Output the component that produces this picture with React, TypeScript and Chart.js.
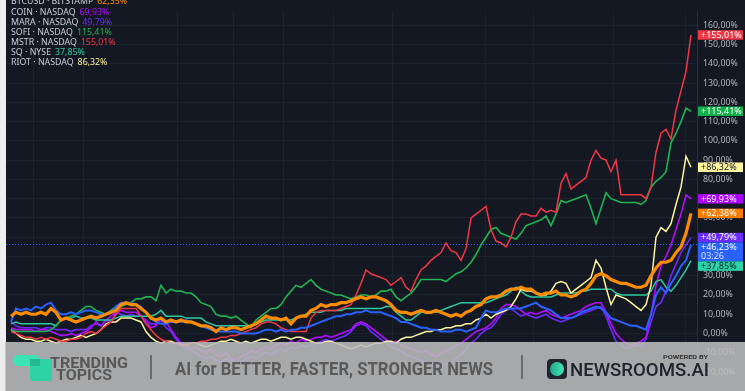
import React, { useEffect, useRef } from "react";
import { Chart, registerables } from "chart.js";
Chart.register(...registerables);

// time index of each sample (about 12h apart)
const timeIndex: number[] = Array.from({ length: 137 }, (_, k) => k + 1);
// time positions of the vertical grid lines
const gridTimes = [5.4, 15.4, 34.2, 45.4, 55.4, 65.4, 77.2, 95.8, 105.4, 121.4, 135.8];

const btc = [
  9, 11, 10, 11, 10, 10, 11, 10, 13, 11,
  7, 8, 7, 6, 7, 8, 9, 8, 9, 10,
  11, 12, 15, 16, 15, 15, 13, 11, 8, 7,
  8, 6, 7, 6, 7, 6, 6, 5, 4, 4,
  3, 1, 3, 2, 3, 3, 2, 3, 4, 5,
  7, 9, 8, 8, 7, 8, 5, 8, 9, 9,
  12, 13, 15, 14, 15, 15, 16, 16, 17, 18,
  19, 18, 19, 19, 18, 17, 15, 12, 11, 11,
  10, 11, 12, 11, 11, 12, 11, 10, 9, 10,
  9, 11, 12, 14, 15, 18, 19, 19, 20, 22,
  23, 23, 24, 23, 23, 21, 20, 21, 21, 22,
  20, 20, 19, 20, 22, 23, 26, 30, 31, 30,
  28, 27, 26, 26, 25, 24, 24, 25, 30, 34,
  37, 37, 38, 42, 45, 52, 62.38,
];
const sofi = [
  2, 1, 1, 1, 1, 1, 1, 1, 2, 4,
  7, 8, 9, 10, 12, 14, 14, 12, 11, 10,
  12, 14, 14, 15, 16, 18, 18, 19, 19, 17,
  25, 21, 23, 22, 22, 21, 21, 19, 16, 15,
  14, 10, 9, 9, 8, 9, 7, 5, 3, 7,
  9, 11, 13, 13, 15, 19, 22, 25, 24, 26,
  28, 25, 23, 22, 21, 20, 20, 19, 18, 19,
  20, 20, 19, 20, 22, 22, 23, 19, 17, 19,
  21, 24, 28, 28, 28, 28, 28, 27, 29, 31,
  32, 34, 37, 41, 46, 50, 54, 55, 52, 51,
  50, 49, 52, 56, 57, 58, 59, 61, 56, 62,
  69, 68, 69, 70, 71, 72, 65, 57, 65, 73,
  70, 69, 68, 68, 68, 68, 67, 69, 76, 79,
  81, 84, 99, 104, 110, 117, 115.41,
];
const mstr = [
  1, 0, -1, -2, -2, -3, -2, -3, -2, -3,
  -4, -4, -3, -3, -2, 0, 1, 0, 2, 4,
  6, 10, 13, 13, 13, 13, 9, 5, 2, -1,
  -3, -4, -5, -5, -6, -6, -5, -5, -4, -4,
  -3, -3, -2, -2, -1, -1, 0, 1, 2, 3,
  5, 6, 6, 5, 3, 2, 1, 1, 1, 1,
  8, 11, 12, 12, 12, 12, 13, 14, 15, 20,
  26, 33, 31, 30, 29, 28, 25, 27, 29, 24,
  22, 28, 33, 35, 38, 40, 42, 47, 43, 42,
  38, 44, 60, 62, 64, 66, 54, 48, 47, 45,
  50, 58, 62, 62, 61, 61, 65, 63, 64, 63,
  78, 83, 75, 77, 79, 81, 90, 95, 91, 90,
  84, 90, 72, 72, 72, 72, 72, 70, 76, 94,
  104, 106, 101, 116, 126, 136, 155.01,
];
const sq = [
  5, 6, 5, 5, 5, 5, 5, 5, 5, 4,
  7, 8, 8, 9, 8, 8, 8, 7, 7, 7,
  7, 8, 9, 9, 9, 9, 9, 9, 9, 10,
  12, 9, 9, 9, 9, 8, 8, 8, 8, 6,
  5, 4, 4, 4, 4, 4, 4, 4, 4, 5,
  6, 7, 7, 7, 7, 7, 7, 8, 9, 10,
  11, 11, 11, 12, 12, 12, 12, 13, 13, 13,
  13, 13, 13, 13, 13, 14, 14, 11, 9, 7,
  7, 9, 11, 11, 11, 11, 12, 13, 14, 15,
  16, 16, 16, 16, 16, 16, 17, 18, 19, 20,
  22, 24, 22, 20, 19, 19, 19, 19, 19, 20,
  21, 21, 21, 21, 22, 22, 23, 23, 23, 23,
  23, 21, 20, 20, 20, 20, 20, 20, 22, 27,
  28, 24, 22, 25, 29, 33, 37.85,
];
const riot = [
  2, 0, -2, -3, -3, -4, -4, -3, -4, -5,
  -4, -3, -3, -2, -1, -2, -1, 0, 2, 5,
  6, 6, 8, 8, 8, 7, 6, 1, -2, -4,
  -5, -4, -4, -5, -6, -6, -5, -5, -6, -7,
  -6, -5, -4, -4, -3, -4, -5, -4, -5, -4,
  -3, -3, -4, -3, -2, -2, -3, -2, -2, -3,
  -4, -5, -5, -4, -4, -5, -6, -7, -8, -7,
  -6, -7, -6, -5, -5, -4, -4, -5, -3, -2,
  -2, -1, 0, 1, 1, 2, 2, 3, 3, 4,
  4, 5, 5, 7, 8, 10, 8, 10, 11, 12,
  14, 18, 23, 22, 22, 21, 20, 20, 22, 26,
  27, 26, 21, 23, 25, 27, 29, 38, 34, 24,
  15, 20, 19, 18, 16, 14, 12, 15, 25, 50,
  55, 53, 57, 67, 76, 92, 86.32,
];
const mainSym = [
  6, 13, 12, 13, 12, 14, 13, 15, 16, 12,
  10, 10, 11, 10, 11, 12, 12, 11, 10, 10,
  11, 14, 16, 16, 16, 15, 14, 11, 8, 6,
  5, 5, 6, 6, 6, 7, 6, 5, 4, 3,
  2, 1, 1, 1, 1, 1, 0, 0, 0, 0,
  1, 2, 2, 1, 2, 1, 2, 2, 3, 3,
  4, 5, 6, 7, 8, 9, 9, 10, 10, 11,
  11, 12, 11, 11, 11, 10, 9, 8, 6, 6,
  5, 4, 3, 3, 2, 2, 1, 1, 1, 2,
  2, 1, 2, 3, 8, 12, 11, 11, 12, 13,
  13, 13, 13, 14, 15, 16, 14, 13, 12, 10,
  8, 8, 8, 9, 11, 12, 13, 14, 13, 11,
  8, 7, 6, 5, 4, 4, 3, 2, 10, 20,
  24, 21, 26, 30, 35, 38, 46.23,
];
const coin = [
  3, 2, 2, 2, 2, 1, 2, 2, 1, 0,
  -1, -1, 0, -1, 0, 1, 3, 6, 4, 7,
  9, 11, 12, 11, 11, 11, 9, 6, 3, 4,
  8, 6, 2, -2, -5, -6, -8, -7, -9, -10,
  -8, -11, -12, -10, -13, -14, -12, -11, -9, -10,
  -8, -7, -8, -6, -5, -6, -4, -5, -3, -4,
  -3, -2, -2, -1, -2, -1, 0, 1, 2, 5,
  6, 5, 3, 1, -1, -3, -5, -4, -6, -7,
  -8, -9, -10, -9, -11, -12, -10, -9, -8, -6,
  -5, -3, -1, 1, 2, 3, 5, 8, 13, 15,
  15, 14, 12, 10, 11, 10, 11, 12, 10, 9,
  8, 9, 10, 11, 12, 14, 15, 16, 16, 11,
  5, 0, -3, -5, -6, -5, -4, -2, 10, 25,
  35, 40, 46, 54, 62, 72, 69.93,
];
const mara = [
  6, 4, 3, 3, 3, 3, 2, 3, 3, 2,
  2, 2, 1, 2, 2, 2, 4, 5, 4, 7,
  6, 11, 10, 9, 10, 9, 9, 7, 5, 5,
  7, 3, 1, -3, -6, -8, -9, -10, -12, -13,
  -12, -14, -15, -13, -14, -16, -15, -13, -12, -13,
  -11, -10, -11, -9, -8, -9, -7, -8, -6, -7,
  -6, -5, -4, -3, -4, -3, -2, -1, 1, 4,
  5, 4, 1, -1, -3, -5, -7, -8, -9, -11,
  -12, -13, -14, -15, -16, -15, -17, -16, -15, -13,
  -11, -8, -5, -3, 0, 2, 3, 6, 10, 12,
  13, 11, 9, 10, 9, 8, 9, 10, 8, 7,
  6, 7, 8, 9, 10, 11, 12, 13, 14, 9,
  2, -4, -6, -8, -7, -6, -7, -3, 6, 14,
  16, 22, 30, 36, 42, 46, 49.79,
];

const legendNames = ["BTCUSD · BITSTAMP", "COIN · NASDAQ", "MARA · NASDAQ", "SOFI · NASDAQ", "MSTR · NASDAQ", "SQ · NYSE", "RIOT · NASDAQ"];
const legendValues = ["62,35%", "69,93%", "49,79%", "115,41%", "155,01%", "37,85%", "86,32%"];
const legendColors = ["#fb8c00", "#b10dff", "#6b2bff", "#1fb451", "#f23645", "#2cc9a0", "#fff59d"];

const yTicksMin = -24;
const yTicksMax = 167.3;
const countdown = "03:26";

const fmt = (v: number) => v.toFixed(2).replace(".", ",") + "%";

const endLabels = {
  id: "endLabels",
  beforeDatasetsDraw(chart: any) {
    const { ctx, chartArea, scales } = chart;
    const ds = chart.data.datasets.find((d: any) => d.isMain);
    if (!ds) return;
    const last = ds.data[ds.data.length - 1].y;
    const py = scales.y.getPixelForValue(last);
    ctx.save();
    ctx.strokeStyle = "#2962ff";
    ctx.lineWidth = 1;
    ctx.setLineDash([1, 2]);
    ctx.beginPath();
    ctx.moveTo(chartArea.left, Math.round(py) + 0.5);
    ctx.lineTo(chartArea.right, Math.round(py) + 0.5);
    ctx.stroke();
    ctx.restore();
  },
  afterDraw(chart: any) {
    const { ctx, chartArea, scales } = chart;
    const items = chart.data.datasets.map((ds: any) => {
      const last = ds.data[ds.data.length - 1].y;
      const cy = scales.y.getPixelForValue(last);
      const h = ds.isMain ? 19 : 9.5;
      return { ds, last, top: cy - 4.75, h };
    });
    items.sort((a: any, b: any) => a.top - b.top);
    let prevBottom = -Infinity;
    for (const it of items) {
      if (it.top < prevBottom) it.top = prevBottom;
      prevBottom = it.top + it.h;
    }
    const x0 = chartArea.right + 1;
    const w = 45;
    ctx.save();
    ctx.font = "9px 'Noto Sans', Roboto, sans-serif";
    ctx.textBaseline = "middle";
    ctx.textAlign = "left";
    for (const it of items) {
      ctx.fillStyle = it.ds.labelBg;
      ctx.fillRect(x0, it.top, w, it.h);
      ctx.fillStyle = it.ds.labelText;
      ctx.fillText("+" + fmt(it.last), x0 + 3, it.top + 5);
      if (it.ds.isMain) {
        ctx.fillStyle = "#dbe4ff";
        ctx.fillText(countdown, x0 + 3, it.top + 14.3);
      }
    }
    ctx.restore();
  },
};

function App() {
  const ref = useRef<HTMLCanvasElement | null>(null);
  useEffect(() => {
    if (!ref.current) return;
    const mk = (
      label: string,
      vals: number[],
      color: string,
      width: number,
      order: number,
      labelBg: string,
      labelText: string,
      isMain = false
    ) => ({
      label,
      data: vals.map((v, k) => ({ x: timeIndex[k], y: v })),
      borderColor: color,
      borderWidth: width,
      pointRadius: 0,
      tension: 0,
      fill: false,
      order,
      labelBg,
      labelText,
      isMain,
    });
    const chart = new Chart(ref.current, {
      type: "line",
      data: {
        datasets: [
          mk("BTCUSD", btc, "#fb8c00", 3.2, 0, "#f57c00", "#ffffff"),
          mk("Main", mainSym, "#2962ff", 2, 1, "#2962ff", "#ffffff", true),
          mk("MSTR", mstr, "#f23645", 1.5, 2, "#f23645", "#ffffff"),
          mk("SOFI", sofi, "#1fb451", 1.6, 3, "#12b04a", "#ffffff"),
          mk("RIOT", riot, "#fff59d", 1.5, 4, "#fff59d", "#131722"),
          mk("SQ", sq, "#2cc9a0", 1.5, 5, "#2bd4a8", "#131722"),
          mk("COIN", coin, "#b10dff", 1.6, 6, "#aa00ff", "#ffffff"),
          mk("MARA", mara, "#6b2bff", 1.6, 7, "#6a2cff", "#ffffff"),
        ] as any,
      },
      options: {
        animation: false,
        responsive: false,
        maintainAspectRatio: false,
        layout: { padding: 0, autoPadding: false } as any,
        plugins: { legend: { display: false }, tooltip: { enabled: false } },
        scales: {
          x: {
            type: "linear",
            min: 0,
            max: 138.2,
            ticks: { display: false },
            grid: { color: "#1e222d", drawTicks: false, lineWidth: 1 },
            border: { display: false },
            afterBuildTicks: (s: any) => {
              s.ticks = gridTimes.map((v) => ({ value: v }));
            },
          },
          y: {
            position: "right",
            min: yTicksMin,
            max: yTicksMax,
            ticks: {
              stepSize: 10,
              includeBounds: false,
              autoSkip: false,
              padding: 6,
              color: "#b2b5be",
              font: { size: 8.8, family: "'Noto Sans', Roboto, sans-serif" },
              callback: (v: any) => fmt(Number(v)),
            },
            grid: { color: "#1e222d", drawTicks: false },
            border: { display: true, color: "#2a2e39" },
            afterFit: (s: any) => {
              s.width = 48;
            },
          },
        },
      },
      plugins: [endLabels],
    } as any);
    return () => chart.destroy();
  }, []);

  const legendTop = [-4, 6.7, 17.3, 27.3, 37.3, 47.3, 57.3];

  return (
    <div style={{ position: "fixed", left: 0, top: 0, width: 745, height: 391, background: "#eeeeee", overflow: "hidden" }}>
      <div style={{ position: "absolute", left: 6, top: 0, width: 739, height: 391, background: "#141823" }}>
        <canvas ref={ref} width={739} height={391} style={{ width: 739, height: 391, display: "block" }} />
      </div>
      {legendNames.map((n, k) => (
        <div
          key={n}
          style={{
            position: "absolute",
            left: 11,
            top: legendTop[k],
            height: 10,
            lineHeight: "10px",
            fontSize: 8.8,
            fontFamily: "'Noto Sans', Roboto, sans-serif",
            color: "#c9ccd4",
            whiteSpace: "nowrap",
          }}
        >
          {n}
          <span style={{ color: legendColors[k], marginLeft: 4 }}>{legendValues[k]}</span>
        </div>
      ))}
      <svg width={745} height={391} style={{ position: "absolute", left: 0, top: 0 }}>
        <defs>
          <linearGradient id="nrg" x1="0" y1="0" x2="1" y2="0">
            <stop offset="0" stopColor="#1fa88a" />
            <stop offset="1" stopColor="#46e6b8" />
          </linearGradient>
        </defs>
        <rect x={5} y={342} width={740} height={49} fill="rgba(190,190,190,0.87)" />
        <rect x={13} y={355} width={27} height={11} rx={5} fill="#3be3b5" />
        <rect x={30} y={359} width={22} height={22} rx={3} fill="#2fd2a6" />
        <rect x={30} y={359} width={10} height={7} fill="#24b890" />
        <text x={50} y={368} textLength={78} lengthAdjust="spacingAndGlyphs" fontFamily="Roboto, sans-serif" fontWeight={700} fontSize={14} fill="#585858">TRENDING</text>
        <text x={56} y={380} textLength={56} lengthAdjust="spacingAndGlyphs" fontFamily="Roboto, sans-serif" fontWeight={700} fontSize={14} fill="#585858">TOPICS</text>
        <rect x={150} y={355} width={2} height={24} fill="#6a6a6a" />
        <text x={175} y={375} textLength={318} lengthAdjust="spacingAndGlyphs" fontFamily="Roboto, sans-serif" fontWeight={700} fontSize={17.5} fill="#5a5a5a">AI for BETTER, FASTER, STRONGER NEWS</text>
        <rect x={521} y={355} width={2} height={24} fill="#6a6a6a" />
        <rect x={547} y={359} width={20} height={20} rx={4} fill="#23232e" />
        <circle cx={557} cy={369} r={7} fill="url(#nrg)" />
        <text x={663} y={358.5} textLength={45} lengthAdjust="spacingAndGlyphs" fontFamily="Roboto, sans-serif" fontWeight={700} fontSize={6} fill="#333333">POWERED BY</text>
        <text x={570} y={376} textLength={139} lengthAdjust="spacingAndGlyphs" fontFamily="Roboto, sans-serif" fontWeight={500} fontSize={18.5} fill="#22222c">NEWSROOMS.AI</text>
      </svg>
    </div>
  );
}

export default App;
